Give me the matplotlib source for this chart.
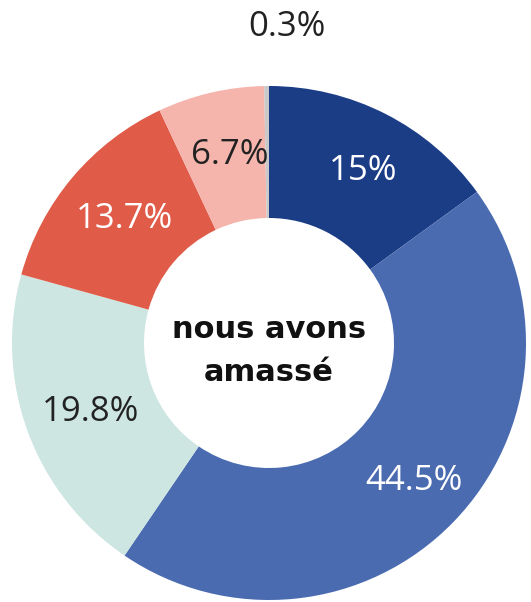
import numpy as np
import matplotlib
matplotlib.use("Agg")
import matplotlib.pyplot as plt

# ── Data ───────────────────────────────────────────────────────────────
shares = [15.0, 44.5, 19.8, 13.7, 6.7, 0.3]
labels = ["15%", "44.5%", "19.8%", "13.7%", "6.7%", "0.3%"]
colors = ["#1b3d86", "#4b6bb1", "#cde6e1", "#e05b48", "#f5b5ad", "#c9c9c9"]
text_colors = ["white", "white", "#222222", "white", "#222222", "#222222"]
center_text = "nous avons\namassé"

W, H = 531, 602
fig = plt.figure(figsize=(W / 100, H / 100), dpi=100)
ax = fig.add_axes([0, 0, 1, 1])

R = 257
center = (269, H - 343)
wedges, _ = ax.pie(
    shares, colors=colors, startangle=90, counterclock=False,
    radius=R, center=center, frame=True,
    wedgeprops=dict(width=R - 125, linewidth=0),
)
ax.set_xlim(0, W)
ax.set_ylim(0, H)
ax.axis("off")

for w, lab, tc in zip(wedges, labels, text_colors):
    ang = np.deg2rad((w.theta1 + w.theta2) / 2)
    if lab == "0.3%":
        x, y = center[0] + 18, center[1] + 1.23 * R
    else:
        x, y = center[0] + 0.76 * R * np.cos(ang) + 5, center[1] + 0.76 * R * np.sin(ang) - 2
    ax.text(x, y, lab, ha="center", va="center", color=tc,
            fontsize=25, family="Open Sans")

ax.text(center[0], center[1] - 8, center_text, ha="center", va="center",
        fontsize=22, fontweight="bold", family="DejaVu Sans", linespacing=1.6,
        color="#111111")

fig.savefig("out.png", dpi=100)
